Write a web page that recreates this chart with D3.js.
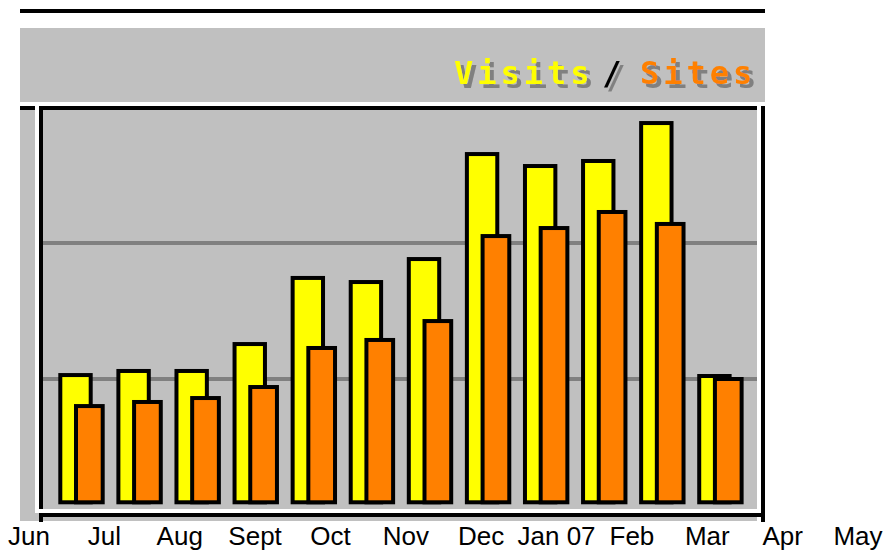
<!DOCTYPE html>
<html>
<head>
<meta charset="utf-8">
<script src="https://cdn.jsdelivr.net/npm/d3@7"></script>
<style>
  body { margin: 0; background: #fff; }
  svg { display: block; }
</style>
</head>
<body>
<div id="chart"></div>
<script>
// months shown on the axis, one bar pair per month
var months = ["Jun", "Jul", "Aug", "Sept", "Oct", "Nov", "Dec", "Jan 07", "Feb", "Mar", "Apr", "May"];
// arbitrary units (gridlines sit at 1000 and 2000)
var visits = [1029, 1059, 1059, 1257, 1743, 1713, 1882, 2654, 2566, 2603, 2882, 1022];
var sites  = [801, 831, 860, 941, 1228, 1287, 1426, 2051, 2110, 2228, 2140, 1000];
var gridValues = [1000, 2000];

var W = 888, H = 552;
var svg = d3.select("#chart").append("svg")
  .attr("width", W)
  .attr("height", H);

// grey drop shadow for the legend words
var f = svg.append("defs").append("filter")
  .attr("id", "shadow")
  .attr("x", "-10%").attr("y", "-10%")
  .attr("width", "130%").attr("height", "140%");
f.append("feOffset").attr("in", "SourceAlpha").attr("dx", 4).attr("dy", 4).attr("result", "off");
f.append("feFlood").attr("flood-color", "#808080").attr("result", "col");
f.append("feComposite").attr("in", "col").attr("in2", "off").attr("operator", "in").attr("result", "sh");
var merge = f.append("feMerge");
merge.append("feMergeNode").attr("in", "sh");
merge.append("feMergeNode").attr("in", "SourceGraphic");

var x = d3.scaleBand().domain(months).range([60.3, 757.3]);
var y = d3.scaleLinear().domain([0, 3000]).range([515, 107]);
var labelX = d3.scalePoint().domain(months).range([29, 858]);
var floorY = 502.3;

// top rule
svg.append("rect").attr("x", 20).attr("y", 9).attr("width", 745).attr("height", 4).attr("fill", "#000");

// legend panel
svg.append("rect").attr("x", 20).attr("y", 28).attr("width", 745).attr("height", 74).attr("fill", "#c0c0c0");

// plot panel
svg.append("rect").attr("x", 20).attr("y", 106).attr("width", 737).attr("height", 415).attr("fill", "#c0c0c0");
svg.append("rect").attr("x", 20).attr("y", 106).attr("width", 20).attr("height", 4).attr("fill", "#000");

// gridlines
svg.selectAll(".grid")
  .data(gridValues)
  .enter()
  .append("line")
  .attr("class", "grid")
  .attr("x1", 43).attr("x2", 757)
  .attr("y1", function(d){ return y(d); })
  .attr("y2", function(d){ return y(d); })
  .attr("stroke", "#808080")
  .attr("stroke-width", 4);

// bars
var groups = svg.selectAll(".month")
  .data(months)
  .enter()
  .append("g")
  .attr("class", "month");

groups.append("rect")
  .attr("x", function(d){ return x(d); })
  .attr("y", function(d, i){ return y(visits[i]); })
  .attr("width", 30.4)
  .attr("height", function(d, i){ return floorY - y(visits[i]); })
  .attr("fill", "#ffff00")
  .attr("stroke", "#000")
  .attr("stroke-width", 4);

groups.append("rect")
  .attr("x", function(d){ return x(d) + 15.7; })
  .attr("y", function(d, i){ return y(sites[i]); })
  .attr("width", 26.7)
  .attr("height", function(d, i){ return floorY - y(sites[i]); })
  .attr("fill", "#ff8000")
  .attr("stroke", "#000")
  .attr("stroke-width", 4);

// frame: black shadow, white highlight on top
svg.append("rect").attr("x", 41).attr("y", 108).attr("width", 722).attr("height", 407)
  .attr("fill", "none").attr("stroke", "#000").attr("stroke-width", 4);
svg.append("rect").attr("x", 37).attr("y", 104).attr("width", 722).attr("height", 407)
  .attr("fill", "none").attr("stroke", "#fff").attr("stroke-width", 4);
svg.append("rect").attr("x", 39).attr("y", 517).attr("width", 4).attr("height", 5).attr("fill", "#000");
svg.append("rect").attr("x", 761).attr("y", 517).attr("width", 4).attr("height", 5).attr("fill", "#000");

// legend
var legend = [
  {t: "Visits", x: 454, anchor: "start", c: "#ffff00"},
  {t: "/", x: 614, anchor: "middle", c: "#000"},
  {t: "Sites", x: 640, anchor: "start", c: "#ff8000"}
];
svg.selectAll(".leg")
  .data(legend)
  .enter()
  .append("text")
  .attr("class", "leg")
  .attr("x", function(d){ return d.x; })
  .attr("y", 84)
  .attr("text-anchor", function(d){ return d.anchor; })
  .attr("font-family", "'DejaVu Sans Mono', monospace")
  .attr("font-weight", "bold")
  .attr("font-size", 32)
  .attr("letter-spacing", 4)
  .attr("fill", function(d){ return d.c; })
  .attr("filter", "url(#shadow)")
  .text(function(d){ return d.t; });

// month labels
svg.selectAll(".lbl")
  .data(months)
  .enter()
  .append("text")
  .attr("class", "lbl")
  .attr("x", function(d){ return labelX(d); })
  .attr("y", 545)
  .attr("text-anchor", "middle")
  .attr("font-family", "'Liberation Sans', Arial, sans-serif")
  .attr("font-size", 26)
  .attr("fill", "#000")
  .text(function(d){ return d; });
</script>
</body>
</html>
